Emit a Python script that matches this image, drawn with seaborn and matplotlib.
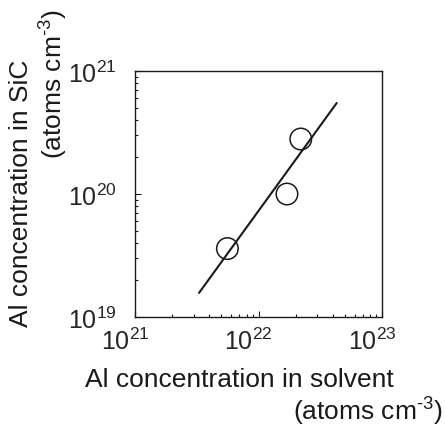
import matplotlib
matplotlib.use("Agg")
import matplotlib.pyplot as plt
import matplotlib.transforms as mtransforms
import seaborn as sns
import pandas as pd

# measured points (atoms cm^-3)
al_solvent = [5.6e21, 1.7e22, 2.2e22]
al_sic = [3.6e19, 1.0e20, 2.8e20]

# fitted line end points
fit_solvent = [3.3e21, 4.3e22]
fit_sic = [1.57e19, 5.5e20]

sns.set_style("ticks")
plt.rcParams['font.family'] = ['Liberation Sans', 'DejaVu Sans']
plt.rcParams['mathtext.fontset'] = 'custom'
plt.rcParams['mathtext.rm'] = 'Liberation Sans'
plt.rcParams['mathtext.it'] = 'Liberation Sans:italic'
plt.rcParams['mathtext.bf'] = 'Liberation Sans:bold'

df = pd.DataFrame({"solvent": al_solvent, "sic": al_sic})
fit = pd.DataFrame({"solvent": fit_solvent, "sic": fit_sic})

fig = plt.figure(figsize=(4.46, 4.27), dpi=100)
ax = fig.add_axes([0.3027, 0.2553, 0.5538, 0.576])

sns.lineplot(data=fit, x="solvent", y="sic", color="#1a1a1a", lw=1.5, ax=ax)
sns.scatterplot(data=df, x="solvent", y="sic", s=240, facecolor="none",
                edgecolor="#1a1a1a", linewidth=1.1, ax=ax, zorder=3)

ax.set_xscale("log")
ax.set_yscale("log")
ax.set_xlim(1e21, 1e23)
ax.set_ylim(1e19, 1e21)
ax.set_xlabel("")
ax.set_ylabel("")

for s in ax.spines.values():
    s.set_linewidth(1.0)
    s.set_color("#1a1a1a")

ax.tick_params(which="both", direction="in", top=False, right=False,
               color="#1a1a1a", width=0.8)
ax.tick_params(which="major", length=4)
ax.tick_params(which="minor", length=2.5)
ax.tick_params(axis="x", which="major", labelsize=18, pad=8)
ax.tick_params(axis="y", which="major", labelsize=18, pad=13)

# x tick labels sit a bit left of their ticks in the original
offset = mtransforms.ScaledTranslation(-0.10, 0, fig.dpi_scale_trans)
for lab in ax.get_xticklabels():
    lab.set_transform(lab.get_transform() + offset)

unit = r"(atoms cm$^{\text{-3}}$)"
fig.text(21 / 446, 1 - 193 / 427, "Al concentration in SiC", rotation=90,
         ha="center", va="center", fontsize=19, color="#1a1a1a")
fig.text(54 / 446, 1 - 84 / 427, unit, rotation=90,
         ha="center", va="center", fontsize=19, color="#1a1a1a")
fig.text(239 / 446, 1 - 380 / 427, "Al concentration in solvent",
         ha="center", va="center", fontsize=19, color="#1a1a1a")
fig.text(368 / 446, 1 - 412 / 427, unit,
         ha="center", va="center", fontsize=19, color="#1a1a1a")

fig.savefig("out.png", dpi=100)
